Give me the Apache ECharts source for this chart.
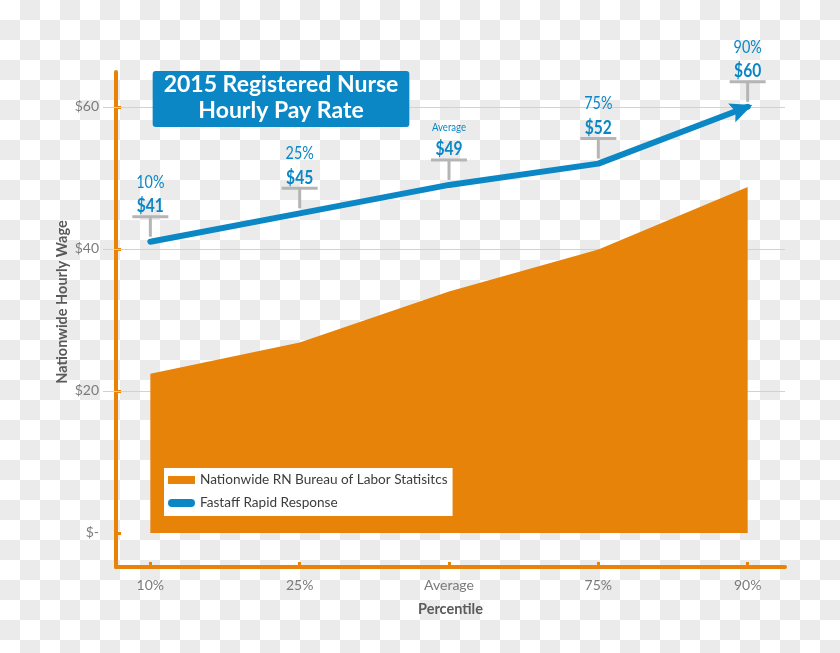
<!DOCTYPE html>
<html><head><meta charset="utf-8">
<script src="https://cdn.jsdelivr.net/npm/echarts@6/dist/echarts.min.js"></script>
<style>
html,body{margin:0;padding:0;}
body{width:840px;height:653px;background:repeating-conic-gradient(#ebebeb 0 25%, #ffffff 0 50%) 0 0/40px 40px;}
#chart{width:840px;height:653px;}
</style></head><body><div id="chart"></div>
<script>
// ---- data ----
const categories = ['10%', '25%', 'Average', '75%', '90%'];
const blsValues = [22.4, 26.8, 34.0, 39.9, 48.7];
const fastaffValues = [41, 45, 49, 52, 60];
const yTickValues = [0, 20, 40, 60];
const yTickLabels = ['$-', '$20', '$40', '$60'];
const gridLineValues = [20, 40, 60];
const seriesNames = ['Nationwide RN Bureau of Labor Statisitcs', 'Fastaff Rapid Response'];
const titleText = '2015 Registered Nurse\nHourly Pay Rate';
const yAxisName = 'Nationwide Hourly Wage';
const xAxisName = 'Percentile';

// ---- styles ----
const ORANGE = '#e8830a';
const BLUE = '#0b87c5';
const GRAYTXT = '#7a7a7a';
const FONT = 'Lato, "Noto Sans", sans-serif';
const catIdx = categories.map((c, i) => i);

const chart = echarts.init(document.getElementById('chart'), null, {renderer: 'canvas'});

const option = {
  animation: false,
  backgroundColor: 'transparent',
  title: {
    text: titleText,
    left: 270, top: 71,
    textAlign: 'center',
    backgroundColor: '#0a87c4',
    borderRadius: 3,
    padding: [1, 11, 3, 11],
    textStyle: {color: '#ffffff', fontFamily: FONT, fontWeight: 'bold', fontSize: 23, lineHeight: 26}
  },
  legend: {
    orient: 'vertical', left: 164, top: 468,
    backgroundColor: '#ffffff',
    padding: [5, 5, 6, 4],
    itemWidth: 27, itemHeight: 8, itemGap: 9,
    textStyle: {fontFamily: FONT, fontSize: 13.6, color: '#3c3c3c'},
    data: [
      {name: seriesNames[0], icon: 'rect'},
      {name: seriesNames[1], icon: 'path://M4,0L23,0A4,4,0,0,1,23,8L4,8A4,4,0,0,1,4,0Z'}
    ]
  },
  grid: {left: 116, right: 55, top: 72, bottom: 86, containLabel: false},
  xAxis: {
    type: 'value', min: -0.23, max: 4.25,
    name: xAxisName, nameLocation: 'middle', nameGap: 35,
    nameTextStyle: {fontFamily: FONT, fontWeight: 'bold', fontSize: 14.5, color: '#5a5a5a'},
    axisLine: {show: true, onZero: false, lineStyle: {color: ORANGE, width: 4}},
    axisTick: {show: true, inside: true, length: 5, customValues: catIdx, lineStyle: {color: ORANGE, width: 3}},
    axisLabel: {customValues: catIdx, margin: 11, formatter: v => categories[Math.round(v)],
      fontFamily: FONT, fontSize: 14, color: GRAYTXT},
    splitLine: {show: false}
  },
  yAxis: [{
    type: 'value', min: -4.8, max: 64.9, position: 'left',
    axisLine: {show: true, onZero: false, lineStyle: {color: ORANGE, width: 4}},
    axisTick: {show: true, inside: false, length: 13, customValues: gridLineValues, lineStyle: {color: '#d2d2d2', width: 1}},
    axisLabel: {customValues: yTickValues, margin: 17,
      formatter: v => yTickLabels[yTickValues.indexOf(Math.round(v))],
      fontFamily: FONT, fontSize: 14, color: GRAYTXT},
    splitLine: {show: false}
  }, {
    type: 'value', min: -4.8, max: 64.9, position: 'left',
    axisLine: {show: false, onZero: false},
    axisTick: {show: true, inside: true, length: 5, customValues: yTickValues, lineStyle: {color: ORANGE, width: 3}},
    axisLabel: {show: false},
    splitLine: {show: false}
  }],
  graphic: [{
    type: 'text', x: 62, y: 302,
    rotation: Math.PI / 2,
    style: {text: yAxisName, fill: '#5a5a5a', font: 'bold 14.5px ' + FONT, align: 'center', verticalAlign: 'middle'}
  }],
  series: [{
    type: 'line', name: 'gridlines', data: [], z: 1, silent: true,
    markLine: {
      z: 1, silent: true, symbol: ['none', 'none'], label: {show: false},
      lineStyle: {color: '#d2d2d2', width: 1, type: 'solid'},
      emphasis: {disabled: true},
      data: gridLineValues.map(v => ({yAxis: v}))
    }
  }, {
    type: 'line', name: seriesNames[0], z: 2,
    data: blsValues.map((v, i) => [i, v]),
    symbol: 'none', showSymbol: false,
    lineStyle: {width: 0, color: ORANGE},
    itemStyle: {color: ORANGE},
    areaStyle: {color: ORANGE, opacity: 1}
  }, {
    type: 'line', name: seriesNames[1], z: 4,
    data: fastaffValues.map((v, i) => [i, v]),
    symbol: 'none', showSymbol: false,
    lineStyle: {width: 6, color: BLUE, cap: 'round', join: 'round'},
    itemStyle: {color: BLUE}
  }, {
    type: 'custom', name: 'annotations', z: 5, silent: true,
    data: fastaffValues.map((v, i) => [i, v]),
    renderItem: function (params, api) {
      const i = api.value(0), v = api.value(1);
      const p = api.coord([i, v]);
      const barY = p[1] - 25, stemBottom = p[1] - 5;
      const gray = '#b5b5b5';
      const cat = categories[i];
      const small = cat.length > 4;
      const children = [
        {type: 'line', shape: {x1: p[0] - 18, y1: barY, x2: p[0] + 18, y2: barY}, style: {stroke: gray, lineWidth: 3}},
        {type: 'line', shape: {x1: p[0], y1: barY, x2: p[0], y2: stemBottom}, style: {stroke: gray, lineWidth: 3}},
        {type: 'text', x: p[0], y: barY - 11, scaleX: 0.8,
          style: {text: '$' + v, fill: BLUE, font: 'bold 19.5px ' + FONT, align: 'center', verticalAlign: 'middle'}},
        {type: 'text', x: p[0], y: barY - (small ? 33 : 35), scaleX: 0.8,
          style: {text: cat, fill: BLUE, font: (small ? '12px ' : '18px ') + FONT, align: 'center', verticalAlign: 'middle'}}
      ];
      // arrow head at the end of the line, oriented along the last segment
      if (i === fastaffValues.length - 1 && i > 0) {
        const q = api.coord([i - 1, fastaffValues[i - 1]]);
        const dx = p[0] - q[0], dy = p[1] - q[1];
        const len = Math.sqrt(dx * dx + dy * dy);
        const ux = dx / len, uy = dy / len, nx = -uy, ny = ux;
        const L = 22, W = 20, E = 5;
        const tip = [p[0] + ux * E, p[1] + uy * E];
        const base = [tip[0] - ux * L, tip[1] - uy * L];
        const notch = [tip[0] - ux * L * 0.82, tip[1] - uy * L * 0.82];
        children.push({type: 'polygon', z2: 10, shape: {points: [
          tip,
          [base[0] + nx * W / 2, base[1] + ny * W / 2],
          notch,
          [base[0] - nx * W / 2, base[1] - ny * W / 2]
        ]}, style: {fill: BLUE}});
      }
      return {type: 'group', children: children};
    }
  }]
};
chart.setOption(option);
</script>
</body></html>
